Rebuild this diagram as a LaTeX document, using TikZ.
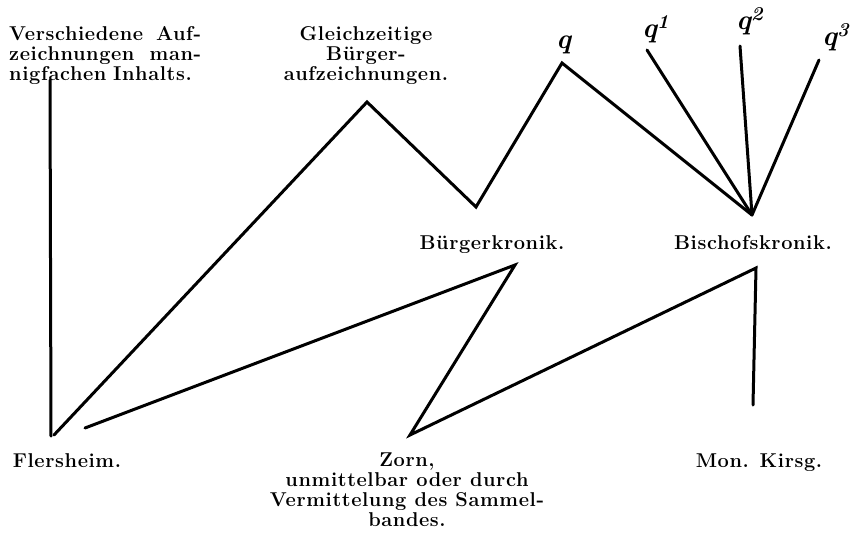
\documentclass[tikz,border=0pt]{standalone}
\usepackage{fontspec}
\setmainfont{Latin Modern Roman}
\newfontfamily\lblfont{Latin Modern Roman}[LetterSpace=3]
\begin{document}
\begin{tikzpicture}[x=1pt,y=-1pt,
  ln/.style={line width=3pt, line join=miter, line cap=round},
  txt/.style={font=\lblfont\fontsize{20}{20}\selectfont\bfseries, inner sep=0pt, align=center},
  qlbl/.style={font=\fontsize{28}{28}\selectfont\bfseries\itshape, inner sep=0pt}]
\useasboundingbox (0,0) rectangle (865,535);
% points
\coordinate (vtop) at (50,80);
\coordinate (fl) at (51,436);
\coordinate (fld) at (54,435);
\coordinate (gl) at (367,102);
\coordinate (bk) at (476,207);
\coordinate (qa) at (562,63);
\coordinate (bi) at (752,215);
\coordinate (q1e) at (647,50);
\coordinate (q2e) at (740,46);
\coordinate (q3e) at (819,60);
\coordinate (bkl) at (515,265);
\coordinate (flb) at (85,428);
\coordinate (zo) at (410,435);
\coordinate (bil) at (756,268);
\coordinate (mk) at (753,405);
% lines
\draw[ln] (vtop) -- (fl);
\draw[ln] (fld) -- (gl) -- (bk) -- (qa) -- (bi);
\draw[ln] (q1e) -- (bi);
\draw[ln] (q2e) -- (bi);
\draw[ln] (q3e) -- (bi);
\draw[ln] (flb) -- (bkl) -- (zo) -- (bil) -- (mk);
% texts
\node[txt, anchor=north west, text width=192pt, align=left] (vers) at (9,26)
  {Verschiedene\hfill Auf-\\zeichnungen\hfill man-\\nigfachen Inhalts.};
\node[txt, anchor=north] (gleich) at (366,26) {Gleichzeitige\\Bürger-\\aufzeichnungen.};
\node[txt, anchor=base] (bkr) at (492,249) {Bürgerkronik.};
\node[txt, anchor=base] (bsk) at (753,249) {Bischofskronik.};
\node[txt, anchor=base] (fls) at (67,467) {Flersheim.};
\node[txt, anchor=base] (mks) at (759,467) {Mon. Kirsg.};
\node[txt, anchor=north] (zorn) at (407,453)
  {Zorn,\\unmittelbar oder durch\\Vermittelung des Sammel-\\bandes.};
\node[qlbl, anchor=base west] (q0) at (556,49) {q};
\node[qlbl, anchor=base west] (q1) at (642,38) {q\textsuperscript{1}};
\node[qlbl, anchor=base west] (q2) at (736,30) {q\textsuperscript{2}};
\node[qlbl, anchor=base west] (q3) at (822,46) {q\textsuperscript{3}};
\end{tikzpicture}
\end{document}
